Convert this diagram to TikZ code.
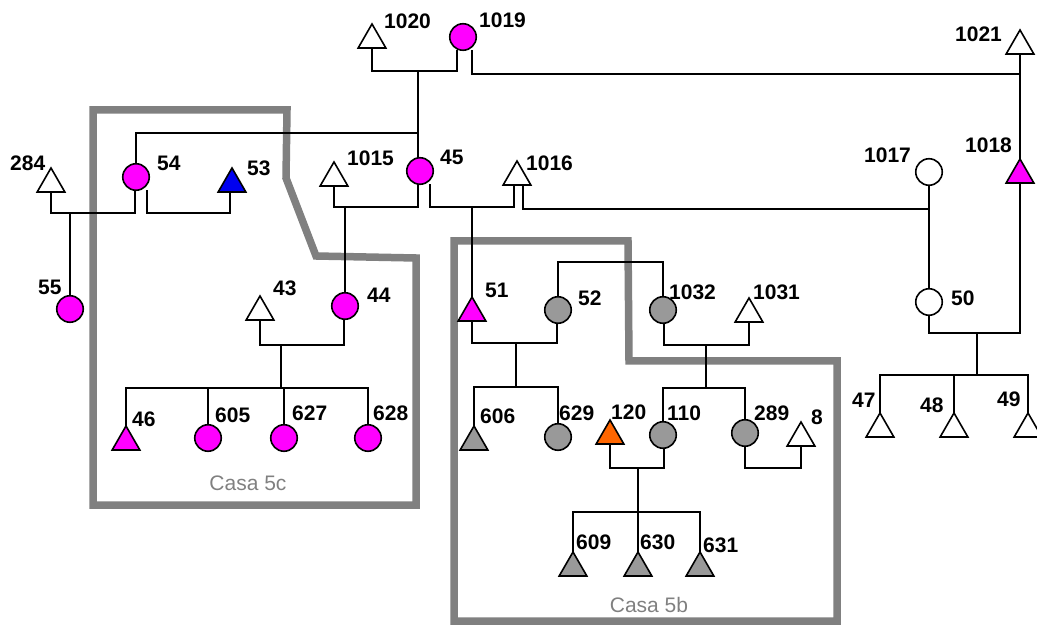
\documentclass[tikz,border=0pt]{standalone}
\usepackage{fontspec}
\setmainfont{Liberation Sans}
\usetikzlibrary{shapes.geometric}
\definecolor{mag}{RGB}{255,0,255}
\definecolor{blu}{RGB}{0,0,240}
\definecolor{gry}{RGB}{153,153,153}
\definecolor{org}{RGB}{255,102,0}
\definecolor{boxgray}{RGB}{128,128,128}
\begin{document}
\begin{tikzpicture}[x=1pt,y=-1pt,
  person/.style={draw=black, line width=1.6pt, inner sep=0pt, outer sep=0pt},
  male/.style={person, regular polygon, regular polygon sides=3, minimum size=32pt, anchor=south},
  female/.style={person, circle, minimum size=26.5pt},
  lbl/.style={anchor=west, inner sep=0pt, font=\fontsize{21}{24}\selectfont\bfseries},
  link/.style={line width=2pt, draw=black},
  casebox/.style={draw=boxgray, line width=7.5pt, line join=miter},
  casetext/.style={text=boxgray, inner sep=0pt, font=\fontsize{21}{24}\selectfont}
]
\useasboundingbox (0,0) rectangle (1037,628);
% case boxes
\draw[casebox] (93,110) -- (287,110) -- (286,178) -- (316,256) -- (416,258) -- (416,505) -- (93,505) -- cycle;
\draw[casebox] (454,241) -- (628,241) -- (629,361) -- (837,361) -- (837,621) -- (454,621) -- cycle;
\node[casetext] (casa5c) at (248,483) {Casa 5c};
\node[casetext] (casa5b) at (649,605) {Casa 5b};
% individuals
\node[male,fill=white] (t1020) at (372,48) {};
\node[female,fill=mag] (c1019) at (463,37) {};
\node[male,fill=white] (t1021) at (1020,54) {};
\node[male,fill=mag] (t1018) at (1020,183) {};
\node[male,fill=white] (t284) at (51,192) {};
\node[female,fill=mag] (c54) at (136,177) {};
\node[male,fill=blu] (t53) at (232,192) {};
\node[male,fill=white] (t1015) at (334,186) {};
\node[female,fill=mag] (c45) at (420,171) {};
\node[male,fill=white] (t1016) at (517,185) {};
\node[female,fill=white] (c1017) at (929,172) {};
\node[female,fill=mag] (c55) at (70,309) {};
\node[male,fill=white] (t43) at (260,320) {};
\node[female,fill=mag] (c44) at (345,306) {};
\node[male,fill=mag] (t51) at (472,321) {};
\node[female,fill=gry] (c52) at (558,310) {};
\node[female,fill=gry] (c1032) at (663,310) {};
\node[male,fill=white] (t1031) at (749,322) {};
\node[female,fill=white] (c50) at (929,302) {};
\node[male,fill=mag] (t46) at (126,450) {};
\node[female,fill=mag] (c605) at (208,438) {};
\node[female,fill=mag] (c627) at (284,438) {};
\node[female,fill=mag] (c628) at (368,438) {};
\node[male,fill=gry] (t606) at (474,450) {};
\node[female,fill=gry] (c629) at (558,437) {};
\node[male,fill=org] (t120) at (610,444) {};
\node[female,fill=gry] (c110) at (663,435) {};
\node[female,fill=gry] (c289) at (745,433) {};
\node[male,fill=white] (t8) at (801,446) {};
\node[male,fill=gry] (t609) at (573,576) {};
\node[male,fill=gry] (t630) at (638,576) {};
\node[male,fill=gry] (t631) at (700,576) {};
\node[male,fill=white] (t47) at (880,437) {};
\node[male,fill=white] (t48) at (954,437) {};
\node[male,fill=white] (t49) at (1028,437) {};
% labels
\node[lbl] (l1020) at (384,21) {1020};
\node[lbl] (l1019) at (479,20) {1019};
\node[lbl] (l1021) at (955,34) {1021};
\node[lbl] (l1018) at (965,145) {1018};
\node[lbl] (l284) at (10,163) {284};
\node[lbl] (l54) at (157,163) {54};
\node[lbl] (l53) at (247,168) {53};
\node[lbl] (l1015) at (347,158) {1015};
\node[lbl] (l45) at (440,157) {45};
\node[lbl] (l1016) at (526,163) {1016};
\node[lbl] (l1017) at (864,155) {1017};
\node[lbl] (l55) at (38,287) {55};
\node[lbl] (l43) at (273,288) {43};
\node[lbl] (l44) at (367,295) {44};
\node[lbl] (l51) at (485,290) {51};
\node[lbl] (l52) at (578,298) {52};
\node[lbl] (l1032) at (669,292) {1032};
\node[lbl] (l1031) at (753,292) {1031};
\node[lbl] (l50) at (951,298) {50};
\node[lbl] (l46) at (132,419) {46};
\node[lbl] (l605) at (215,415) {605};
\node[lbl] (l627) at (292,413) {627};
\node[lbl] (l628) at (373,413) {628};
\node[lbl] (l606) at (480,416) {606};
\node[lbl] (l629) at (559,413) {629};
\node[lbl] (l120) at (611,412) {120};
\node[lbl] (l110) at (667,413) {110};
\node[lbl] (l289) at (754,413) {289};
\node[lbl] (l8) at (811,417) {8};
\node[lbl] (l47) at (852,400) {47};
\node[lbl] (l48) at (920,405) {48};
\node[lbl] (l49) at (997,399) {49};
\node[lbl] (l609) at (576,542) {609};
\node[lbl] (l630) at (640,542) {630};
\node[lbl] (l631) at (703,545) {631};
% junction coordinates
\coordinate (m1) at (418,71);
\coordinate (j54) at (418,133);
\coordinate (m2) at (1020,74);
\coordinate (m3) at (70,213);
\coordinate (m4) at (345,207);
\coordinate (m5) at (472,207);
\coordinate (m6) at (929,209);
\coordinate (m7) at (977,333);
\coordinate (s7) at (977,375);
\coordinate (m8) at (281,345);
\coordinate (s8) at (281,388);
\coordinate (m9) at (516,343);
\coordinate (s9) at (516,387);
\coordinate (s10) at (610,262);
\coordinate (m11) at (706,345);
\coordinate (s11) at (706,388);
\coordinate (m12) at (638,468);
\coordinate (s12) at (638,512);
% connectors
\draw[link] (t1020.south) |- (m1) -| ([xshift=-6pt]c1019.south);
\draw[link] (m1) -- (m1 |- c45.north);
\draw[link] (j54) -| (c54.north);
\draw[link] ([xshift=9pt]c1019.south) |- (m2) -- (t1021.south);
\draw[link] (m2) -- (t1018.north);
\draw[link] (t284.south) |- (m3) -| ([xshift=-1pt]c54.south);
\draw[link] (m3) -- (c55.north);
\draw[link] ([xshift=11pt]c54.south) -- ++(0,23) -| ([xshift=-2pt]t53.south);
\draw[link] (t1015.south) |- (m4) -| ([xshift=-2pt]c45.south);
\draw[link] (m4) -- (c44.north);
\draw[link] ([xshift=10pt]c45.south) |- (m5) -| ([xshift=-3pt]t1016.south);
\draw[link] (m5) -- (t51.north);
\draw[link] ([xshift=6pt]t1016.south) |- (m6) -- (c1017.south);
\draw[link] (m6) -- (c50.north);
\draw[link] (c50.south) |- (m7) -| (t1018.south);
\draw[link] (m7) -- (s7);
\draw[link] (t47.north) |- (s7) -| (t49.north);
\draw[link] (t48.north) -- (t48.north |- s7);
\draw[link] (t43.south) |- (m8) -| ([xshift=-1pt]c44.south);
\draw[link] (m8) -- (s8);
\draw[link] (t46.north) |- (s8) -| (c628.north);
\draw[link] (c605.north) -- (c605.north |- s8);
\draw[link] (c627.north) -- (c627.north |- s8);
\draw[link] (t51.south) |- (m9) -| ([xshift=-1pt]c52.south);
\draw[link] (m9) -- (s9);
\draw[link] (t606.north) |- (s9) -| (c629.north);
\draw[link] (c52.north) |- (s10) -| (c1032.north);
\draw[link] ([xshift=1pt]c1032.south) |- (m11) -| (t1031.south);
\draw[link] (m11) -- (s11);
\draw[link] (c110.north) |- (s11) -| (c289.north);
\draw[link] (t120.south) |- (m12) -| ([xshift=1pt]c110.south);
\draw[link] (m12) -- (t630.north);
\draw[link] (t609.north) |- (s12) -| (t631.north);
\draw[link] (c289.south) -- ++(0,22) -| (t8.south);
\end{tikzpicture}
\end{document}
